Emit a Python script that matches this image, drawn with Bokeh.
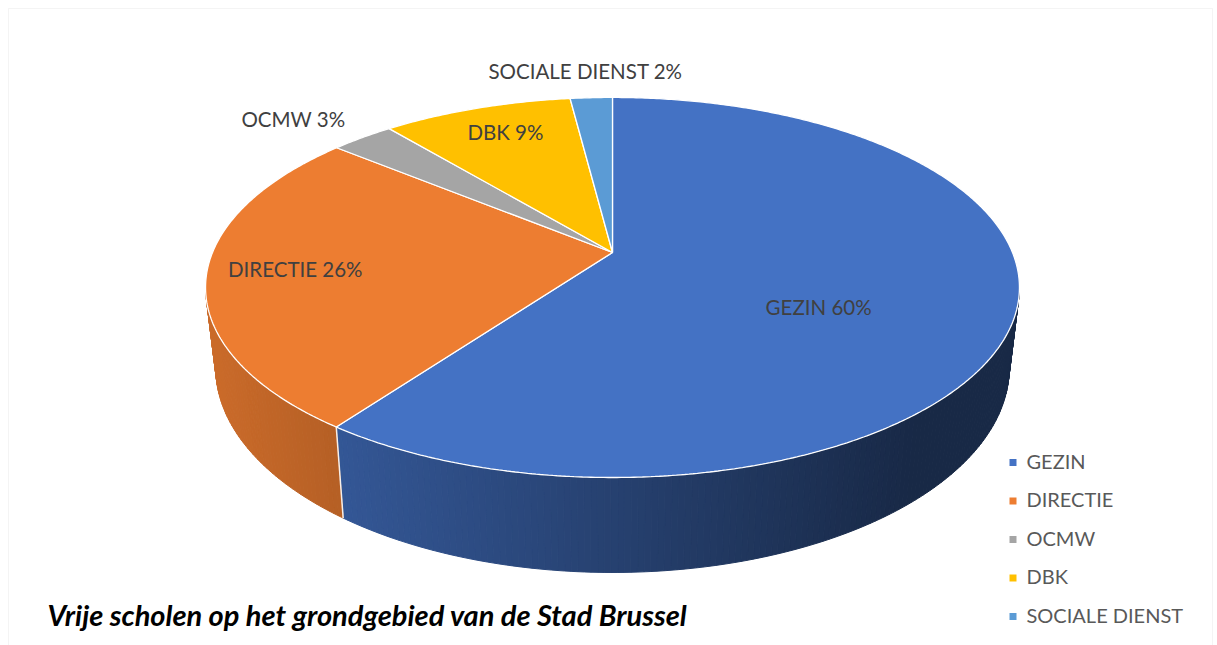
import numpy as np
from bokeh.plotting import figure
from bokeh.models import Range1d, ColumnDataSource, BoxAnnotation
from bokeh.core.properties import value
from bokeh.embed import file_html
from bokeh.resources import INLINE

# ---- data ----
categories = ["GEZIN", "DIRECTIE", "OCMW", "DBK", "SOCIALE DIENST"]
shares = [60, 26, 3, 9, 2]
colors = ["#4472C4", "#ED7D31", "#A5A5A5", "#FFC000", "#5B9BD5"]
chart_title = "Vrije scholen op het grondgebied van de Stad Brussel"

# ---- layout / style constants ----
W, H = 1217, 645
CX, CY = 612.0, 252.0          # pie vertex (pixel-like data units, y downward)
RX, RY = 400.0, 183.6          # projected radii
PERSP = 0.184                  # perspective strength
DEPTH = 77.5                   # pie thickness
BOTTOM_SHRINK = 0.975
LABEL_R = [(0.513, 0.935), (0.785, 0.78), (1.30, 1.171), (0.765, 0.80), (1.31, 1.198)]
FONT = "Lato"
LABEL_COLOR = "#404040"
LEGEND_COLOR = "#595959"
LEG_X, LEG_Y0, LEG_DY = 1012.5, 462.0, 38.5
TEXT_DY = -2.0


def proj(X, Z):
    f = 1.0 / (1.0 + PERSP * Z)
    return CX + RX * X * f, CY - RY * Z * f


def proj_bottom(X, Z):
    f = 1.0 / (1.0 + PERSP * Z)
    x, y = proj(X, Z)
    return CX + (x - CX) * BOTTOM_SHRINK, y + DEPTH * f


def hex_to_rgb(h):
    h = h.lstrip("#")
    return tuple(int(h[i:i + 2], 16) for i in (0, 2, 4))


def shade(hexcol, k):
    r, g, b = hex_to_rgb(hexcol)
    return "#%02x%02x%02x" % (int(r * k), int(g * k), int(b * k))


total = float(sum(shares))
bounds = np.concatenate([[0.0], np.cumsum(shares) / total * 2 * np.pi])

p = figure(width=W, height=H, x_range=Range1d(0, W), y_range=Range1d(H, 0),
           output_backend="svg", toolbar_location=None, min_border=0,
           background_fill_color="white", border_fill_color="white")
p.axis.visible = False
p.grid.visible = False
p.outline_line_color = None

# chart-area frame (bottom edge lies below the window)
p.add_layout(BoxAnnotation(left=8, right=1212, top=8, bottom=H + 20,
                           fill_color=None, line_color="#D9D9D9", line_width=1))

# ---- side walls (visible front part) ----
vis0 = np.arccos(-PERSP)
vis1 = 2 * np.pi - vis0
sx, sy, scol = [], [], []
div_x, div_y = [], []
for i in range(len(shares)):
    a0, a1 = bounds[i], bounds[i + 1]
    lo, hi = max(a0, vis0), min(a1, vis1)
    if lo >= hi:
        continue
    n = max(2, int(np.ceil((hi - lo) / np.radians(0.8))))
    th = np.linspace(lo, hi, n + 1)
    for j in range(n):
        t1, t2 = th[j], th[j + 1]
        x1, y1 = proj(np.sin(t1), np.cos(t1))
        x2, y2 = proj(np.sin(t2), np.cos(t2))
        bx1, by1 = proj_bottom(np.sin(t1), np.cos(t1))
        bx2, by2 = proj_bottom(np.sin(t2), np.cos(t2))
        u = ((x1 + x2) / 2 - CX) / RX
        k = float(np.clip(0.573 - 0.28 * u, 0.36, 0.9))
        sx.append([x1, x2, bx2, bx1])
        sy.append([y1, y2, by2, by1])
        scol.append(shade(colors[i], k))
for b in bounds[1:-1]:
    if vis0 < b < vis1:
        tx, ty = proj(np.sin(b), np.cos(b))
        bx, by = proj_bottom(np.sin(b), np.cos(b))
        div_x.append([tx, bx])
        div_y.append([ty, by])

p.patches(xs="xs", ys="ys", fill_color="c", line_color="c", line_width=1,
          source=ColumnDataSource(dict(xs=sx, ys=sy, c=scol)))
if div_x:
    p.multi_line(xs=div_x, ys=div_y, line_color="white", line_width=1.5, line_alpha=0.9)

# ---- top faces ----
tx_all, ty_all = [], []
for i in range(len(shares)):
    a0, a1 = bounds[i], bounds[i + 1]
    n = max(3, int(np.ceil((a1 - a0) / np.radians(0.5))))
    th = np.linspace(a0, a1, n + 1)
    xs, ys = proj(np.sin(th), np.cos(th))
    tx_all.append([CX] + list(xs))
    ty_all.append([CY] + list(ys))
p.patches(xs="xs", ys="ys", fill_color="c", line_color="white", line_width=1.3,
          source=ColumnDataSource(dict(xs=tx_all, ys=ty_all, c=colors)))

# ---- data labels ----
lx, ly, lt = [], [], []
for i, (cat, s) in enumerate(zip(categories, shares)):
    mid = (bounds[i] + bounds[i + 1]) / 2
    r1, r2 = LABEL_R[i]
    x, y = proj(r1 * np.sin(mid), r2 * np.cos(mid))
    lx.append(x)
    ly.append(y + TEXT_DY)
    lt.append(f"{cat} {s}%")
p.text(x=lx, y=ly, text=lt, text_font=value(FONT), text_font_size="20.5px",
       text_color=LABEL_COLOR, text_align="center", text_baseline="middle")

# ---- legend ----
legy = [LEG_Y0 + LEG_DY * i for i in range(len(categories))]
p.scatter(x=[LEG_X] * len(categories), y=legy, marker="square", size=7,
          fill_color=colors, line_color=None)
p.text(x=[LEG_X + 13.5] * len(categories), y=[v + TEXT_DY for v in legy], text=categories,
       text_font=value(FONT), text_font_size="20px", text_color=LEGEND_COLOR,
       text_align="left", text_baseline="middle")

# ---- title (bottom-left) ----
p.text(x=[47], y=[614], text=[chart_title], text_font=value(FONT),
       text_font_size="29px", text_font_style="bold italic", text_color="black",
       text_align="left", text_baseline="middle")

open("out.html", "w").write(file_html(p, INLINE))
